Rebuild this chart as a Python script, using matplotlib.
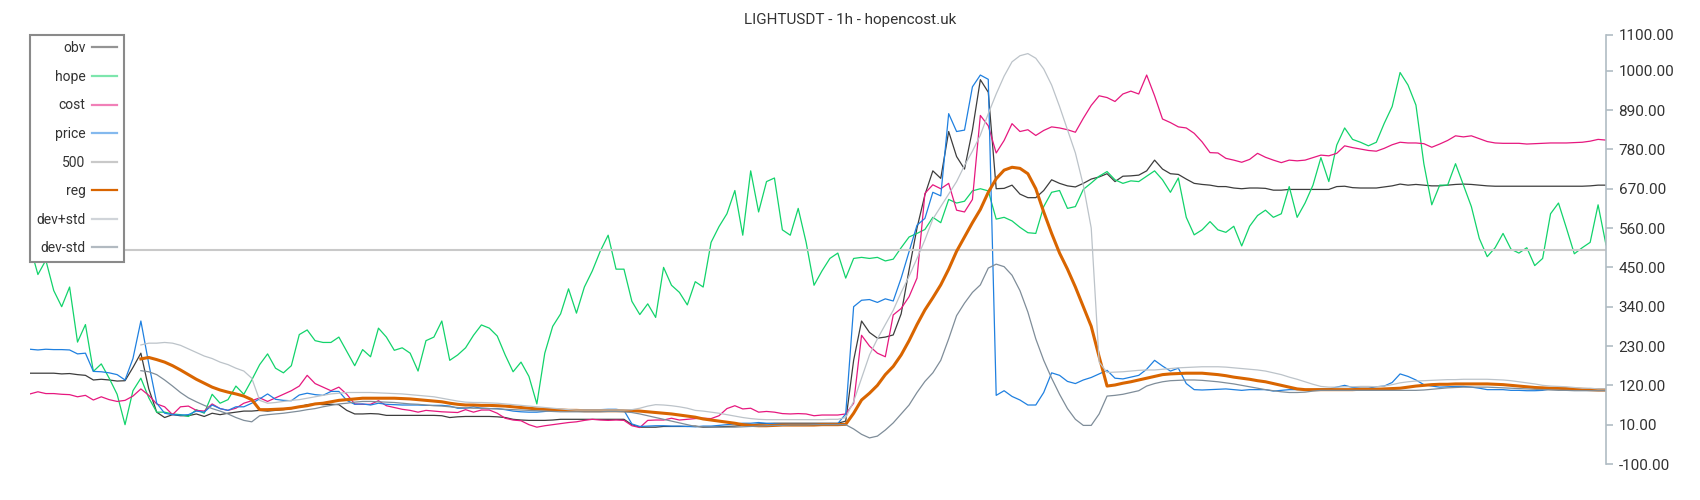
import numpy as np
import matplotlib.pyplot as plt
from matplotlib.lines import Line2D

plt.rcParams['font.family'] = ['Roboto', 'DejaVu Sans']

nan = float('nan')

title = "LIGHTUSDT - 1h - hopencost.uk"
labels = ["obv", "hope", "cost", "price", "500", "reg", "dev+std", "dev-std"]

# hourly candles
obv = [154, 154, 154, 154, 152, 153, 150, 148, 135, 137, 135, 132, 133, 170, 210, 110, 45, 30, 38, 35,
       35, 40, 33, 42, 38, 42, 45, 48,
       48, 50, 48, 50, 52, 55, 60, 66, 68, 66, 67, 66, 50, 40, 40, 41, 40, 36, 36, 36,
       36, 36, 36, 36, 35, 30, 32, 33, 33,
       33, 33, 32, 30, 25, 23, 22, 22, 22, 23, 25, 25, 25, 25, 25, 25, 25, 25, 25, 10,
       3, 3, 3, 5, 5, 5, 5, 6,
       3, 3, 4, 5, 6, 8, 10, 12, 13, 14, 14, 14, 14, 14, 14, 14, 14, 14, 20, 190,
       300, 268, 252, 255, 261, 320, 443, 560, 653,
       720, 699, 830, 760, 725, 834, 975, 940, 670, 671, 680, 655, 645, 645, 665, 695, 685, 678, 675, 685,
       697, 703, 712, 690, 705, 706, 708, 720,
       750, 725, 712, 710, 697, 685, 682, 680, 676, 676, 672, 670, 672, 672, 671, 666, 666, 668, 668, 668,
       668, 668, 668, 676, 677, 673, 672, 672,
       672, 675, 678, 683, 680, 682, 680, 678, 678, 680, 682, 683, 682, 680, 678, 677, 677, 677, 677, 677,
       677, 677, 677, 677, 677, 677, 677, 678, 680, 680]

hope = [510, 430, 470, 385, 340, 395, 241, 290, 159, 180, 140, 95, 10, 105, 140, 85, 45, 45, 40, 38,
        33, 52, 42, 95, 70, 80, 118, 95,
        135, 178, 208, 168, 155, 175, 262, 275, 245, 240, 240, 255, 215, 175, 220, 200, 280, 255, 218, 225,
        210, 160, 245, 255, 300, 190, 205, 225, 260,
        289, 280, 258, 205, 158, 185, 145, 68, 210, 285, 320, 390, 322, 395, 440, 495, 540, 445, 445, 355,
        318, 348, 310, 450, 400, 380, 345, 410,
        395, 520, 564, 600, 665, 540, 720, 605, 690, 700, 555, 540, 615, 520, 400, 440, 475, 490, 420, 475,
        478, 475, 478, 468, 473, 505, 535, 545, 556,
        590, 575, 640, 630, 635, 664, 670, 664, 585, 590, 580, 562, 547, 545, 620, 660, 665, 615, 620, 668,
        686, 705, 718, 695, 685, 692, 690, 705,
        720, 695, 660, 700, 590, 541, 555, 578, 555, 548, 565, 510, 565, 595, 610, 590, 600, 676, 590, 630,
        680, 757, 690, 792, 840, 808, 800, 790,
        800, 853, 900, 995, 960, 904, 740, 625, 680, 680, 740, 680, 620, 531, 480, 505, 545, 501, 490, 505,
        455, 475, 600, 630, 560, 488, 505, 520, 625, 513]

cost = [96, 102, 97, 97, 95, 94, 88, 92, 79, 88, 80, 75, 78, 90, 110, 92, 68, 60, 38, 60,
        62, 50, 48, 68, 55, 50, 56, 70,
        77, 85, 75, 85, 95, 105, 118, 148, 125, 115, 105, 115, 95, 68, 67, 67, 77, 63, 58, 53,
        50, 45, 50, 48, 46, 45, 44, 52, 45,
        51, 51, 42, 28, 23, 21, 10, 3, 7, 10, 13, 16, 18, 22, 25, 23, 22, 23, 22, 7,
        2, 22, 23, 23, 28, 23, 25, 27,
        28, 27, 35, 55, 63, 54, 56, 45, 47, 45, 41, 40, 41, 40, 35, 37, 37, 37, 40, 70,
        260, 230, 210, 200, 317, 335, 368, 420, 657,
        681, 670, 685, 610, 605, 640, 875, 846, 770, 805, 852, 830, 835, 819, 833, 843, 840, 835, 828, 867,
        903, 930, 925, 914, 935, 943, 935, 988,
        930, 865, 855, 843, 840, 825, 801, 771, 770, 755, 750, 744, 752, 769, 758, 750, 743, 750, 748, 750,
        757, 764, 762, 769, 790, 785, 781, 777,
        775, 783, 793, 800, 798, 798, 796, 786, 795, 805, 818, 815, 818, 810, 802, 798, 797, 797, 797, 795,
        796, 797, 798, 798, 798, 799, 800, 803, 808, 806]

price = [221, 219, 221, 220, 220, 219, 208, 210, 159, 158, 155, 150, 135, 195, 300, 180, 70, 42, 38, 37,
         38, 48, 45, 65, 55, 50, 60, 60,
         70, 82, 96, 81, 78, 77, 93, 98, 94, 92, 103, 103, 78, 67, 68, 65, 70, 67, 66, 65,
         65, 65, 64, 64, 64, 62, 56, 56, 60,
         56, 55, 55, 52, 48, 46, 45, 45, 47, 50, 52, 52, 52, 52, 52, 52, 53, 53, 50, 12,
         5, 6, 7, 7, 6, 6, 5, 4,
         6, 6, 8, 10, 12, 14, 14, 16, 14, 13, 12, 12, 12, 12, 12, 12, 13, 13, 40, 340,
         358, 360, 352, 362, 356, 420, 494, 568, 587,
         660, 650, 880, 830, 834, 955, 988, 976, 92, 105, 89, 79, 65, 65, 100, 155, 148, 131, 125, 135,
         142, 152, 162, 140, 138, 143, 148, 165,
         190, 174, 160, 168, 125, 108, 107, 108, 109, 110, 108, 106, 108, 108, 108, 104, 106, 108, 108, 108,
         108, 110, 110, 115, 120, 114, 112, 112,
         116, 118, 128, 152, 145, 135, 122, 118, 115, 116, 117, 117, 115, 112, 108, 108, 108, 106, 106, 105,
         105, 106, 110, 110, 108, 108, 108, 108, 109, 109]

level = [500] * len(obv)

reg = [nan] * 14 + [
    194, 198, 192, 185, 175, 163, 150, 137, 126, 115, 107, 101, 96, 90,
    80, 52, 52, 53, 54, 56, 60, 63, 68, 70, 74, 78, 80, 82, 84, 84, 84, 84, 84, 83,
    82, 80, 78, 76, 74, 70, 67, 65, 65,
    64, 64, 63, 62, 60, 58, 56, 54, 53, 52, 51, 50, 50, 49, 49, 49, 49, 49, 49, 49,
    48, 46, 44, 42, 40, 37, 34, 31,
    26, 23, 20, 17, 14, 10, 8, 7, 7, 8, 9, 9, 9, 9, 9, 10, 10, 10, 11, 42,
    79, 98, 120, 150, 173, 205, 245, 290, 331,
    365, 401, 445, 495, 535, 575, 612, 660, 698, 722, 730, 727, 712, 670, 605, 545, 490, 445, 395, 340,
    285, 200, 118, 121, 126, 130, 135, 140,
    145, 150, 152, 153, 154, 154, 154, 152, 150, 147, 143, 140, 137, 133, 130, 125, 120, 115, 110, 108,
    108, 108, 108, 108, 108, 108, 109, 109,
    109, 110, 111, 112, 115, 118, 120, 122, 123, 123, 124, 124, 124, 124, 124, 123, 122, 120, 118, 116,
    114, 113, 112, 112, 111, 110, 109, 108, 107, 107]

dev_plus = [nan] * 14 + [
    233, 238, 238, 240, 238, 232, 222, 212, 202, 195, 185, 178, 168, 160,
    140, 78, 70, 72, 75, 78, 80, 84, 88, 92, 96, 98, 100, 100, 100, 100, 99, 98, 97, 96,
    94, 92, 90, 88, 84, 80, 76, 73, 72,
    72, 71, 70, 68, 66, 64, 62, 60, 58, 56, 54, 52, 51, 51, 51, 51, 51, 51, 51, 52,
    56, 62, 66, 65, 63, 60, 56, 50,
    48, 45, 42, 38, 34, 30, 27, 25, 24, 24, 24, 24, 24, 24, 24, 24, 25, 25, 30, 75,
    140, 205, 250, 290, 330, 380, 425, 475, 527,
    585, 620, 655, 690, 735, 775, 820, 880, 935, 985, 1025, 1042, 1048, 1035, 1005, 960, 900, 835, 770, 680,
    560, 185, 156, 157, 158, 160, 162, 163,
    163, 165, 167, 169, 170, 171, 172, 172, 172, 171, 169, 167, 165, 163, 160, 155, 150, 143, 137, 130,
    123, 117, 115, 115, 116, 116, 117, 117,
    116, 118, 122, 127, 130, 132, 133, 134, 135, 136, 136, 137, 137, 137, 137, 136, 135, 133, 130, 127,
    124, 120, 118, 117, 116, 114, 112, 112, 110, 110]

dev_minus = [nan] * 14 + [
    161, 158, 150, 135, 118, 100, 85, 74, 64, 55, 48, 40, 30, 22,
    18, 35, 38, 40, 42, 45, 48, 52, 55, 60, 64, 68, 70, 73, 75, 75, 74, 73, 72, 70,
    68, 67, 65, 63, 62, 60, 58, 57, 56,
    56, 55, 54, 53, 52, 51, 50, 49, 48, 47, 46, 46, 46, 46, 46, 46, 47, 47, 46, 44,
    40, 35, 30, 25, 20, 15, 10, 5,
    4, 3, 3, 3, 3, 4, 5, 6, 7, 8, 8, 9, 9, 9, 10, 10, 10, 10, 10, -2,
    -17, -27, -22, -5, 15, 40, 65, 100, 131,
    155, 190, 250, 315, 350, 380, 401, 448, 459, 452, 428, 385, 325, 250, 190, 140, 95, 55, 25, 8,
    8, 40, 90, 92, 95, 100, 105, 118,
    125, 130, 133, 134, 135, 135, 134, 132, 130, 127, 124, 120, 116, 112, 108, 105, 102, 100, 100, 101,
    104, 106, 106, 106, 106, 106, 106, 106,
    106, 106, 106, 106, 106, 106, 107, 109, 111, 113, 114, 115, 115, 115, 115, 114, 113, 112, 111, 110,
    109, 108, 107, 106, 106, 105, 105, 105, 105, 105]

series = [obv, hope, cost, price, level, reg, dev_plus, dev_minus]
colors = ['#3d3d3d', '#12d36b', '#e6187f', '#1f80e0', '#c9c9c9', '#d96500', '#bcc3c9', '#7f8d99']
widths = [0.9, 0.9, 0.9, 0.9, 1.5, 2.2, 0.9, 0.9]
legend_alpha = [0.55, 0.55, 0.55, 0.55, 1, 1, 0.7, 0.6]

yticks = list(range(-100, 1001, 110)) + [1100]

fig = plt.figure(figsize=(17, 5), dpi=100)
ax = fig.add_axes([30 / 1700, 36 / 500, 1576 / 1700, 429 / 500])

for s, c, w in zip(series, colors, widths):
    ax.plot(np.arange(len(s)), s, color=c, lw=w)

ax.set_xlim(0, len(obv) - 1)
ax.set_ylim(-100, 1100)
ax.yaxis.tick_right()
ax.set_yticks(yticks)
ax.set_yticklabels(['%.2f' % t for t in yticks])
ax.set_xticks([])
for side in ['left', 'top', 'bottom']:
    ax.spines[side].set_visible(False)
ax.spines['right'].set_color('#b0bcc4')
ax.spines['right'].set_linewidth(1.2)
ax.tick_params(axis='y', colors='#b0bcc4', labelcolor='#333333', length=5, width=1.2,
               labelsize=11, pad=4)

handles = [Line2D([], [], color=c, lw=1.6, alpha=a) for c, a in zip(colors, legend_alpha)]
leg = ax.legend(handles, labels, loc='upper left', bbox_to_anchor=(0, 1), borderaxespad=0,
                markerfirst=False, fancybox=False, framealpha=1, edgecolor='#8a8a8a',
                fontsize=10, labelspacing=1.05, handlelength=1.8, handletextpad=0.5,
                borderpad=0.45)
leg.get_frame().set_linewidth(1.5)
for t in leg.get_texts():
    t.set_color('#333333')

fig.text(0.5, 1 - 20 / 500, title, ha='center', va='center', fontsize=11, color='#333333')

fig.savefig('out.png', dpi=100)
